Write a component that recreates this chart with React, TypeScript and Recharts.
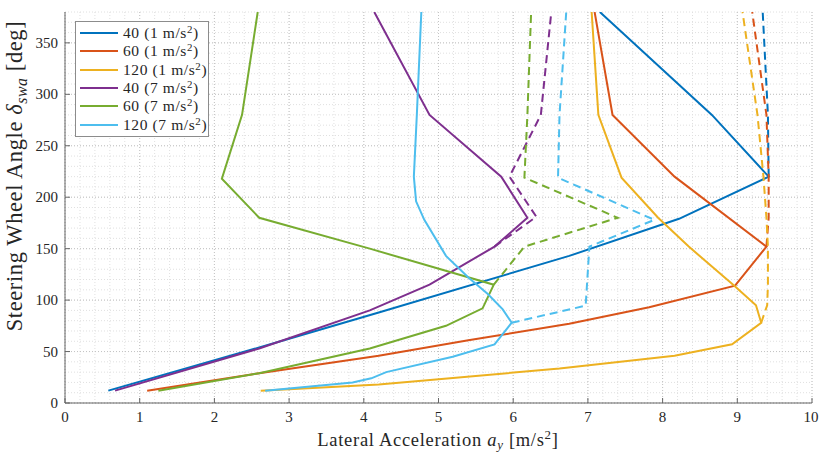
import { LineChart, Line, XAxis, YAxis, CartesianGrid } from "recharts"

// [lateral acceleration m/s^2, steering wheel angle deg]
const v40a1: number[][] = [[0.58, 12], [2.6, 54], [4.2, 88], [6.75, 143], [8.22, 179], [9.42, 220], [8.66, 280], [7.16, 380]]
const v40a1Dash: number[][] = [[9.42, 220], [9.41, 280], [9.34, 380]]

const v60a1: number[][] = [[1.1, 12], [2.6, 29], [4.2, 46], [5.4, 61], [6.75, 77], [7.82, 93], [8.97, 114], [9.39, 152], [8.16, 220], [7.33, 280], [7.09, 380]]
const v60a1Dash: number[][] = [[9.39, 152], [9.42, 180], [9.42, 220], [9.39, 280], [9.2, 380]]

const v120a1: number[][] = [[2.62, 12], [4.2, 18], [6.62, 33.5], [8.16, 46], [8.93, 57], [9.32, 78], [9.25, 95], [8.96, 114], [8.35, 152], [7.94, 180], [7.45, 219], [7.14, 280], [7.05, 380]]
const v120a1Dash: number[][] = [[9.32, 78], [9.4, 95], [9.41, 115], [9.41, 152], [9.39, 180], [9.35, 220], [9.27, 280], [9.07, 380]]

const v40a7: number[][] = [[0.67, 12], [2.6, 53], [4.08, 90], [4.88, 115], [5.75, 152], [6.19, 180], [5.84, 220], [4.88, 280], [4.14, 380]]
const v40a7Dash: number[][] = [[5.75, 152], [6.31, 181], [5.95, 220], [6.37, 280], [6.51, 380]]

const v60a7: number[][] = [[1.25, 12], [2.6, 29], [4.08, 53], [5.1, 75], [5.59, 92], [5.74, 115], [4.08, 150], [2.6, 180], [2.1, 218], [2.37, 280], [2.58, 380]]
const v60a7Dash: number[][] = [[5.74, 115], [6.15, 152], [7.4, 180], [6.15, 219], [6.19, 280], [6.24, 380]]

const v120a7: number[][] = [[2.68, 12], [3.85, 20], [4.1, 24], [4.3, 30], [5.19, 45], [5.75, 57], [5.98, 78], [5.86, 91], [5.66, 106], [5.4, 122], [5.1, 143], [4.81, 178], [4.7, 196], [4.67, 220], [4.71, 280], [4.77, 380]]
const v120a7Dash: number[][] = [[5.98, 78], [6.97, 94.6], [7.02, 152], [7.89, 178], [6.6, 219], [6.62, 280], [6.71, 380]]

const speeds = ["40", "60", "120", "40", "60", "120"]
const accels = ["1", "1", "1", "7", "7", "7"]
const colors = ["#0072BD", "#D95319", "#EDB120", "#7E2F8E", "#77AC30", "#4DBEEE"]
const solidLines = [v40a1, v60a1, v120a1, v40a7, v60a7, v120a7]
const dashedLines = [v40a1Dash, v60a1Dash, v120a1Dash, v40a7Dash, v60a7Dash, v120a7Dash]

const xTicks = [0, 1, 2, 3, 4, 5, 6, 7, 8, 9, 10]
const yTicks = [0, 50, 100, 150, 200, 250, 300, 350]
const X_MAX = 10
const Y_MAX = 380

const minorX = Array.from({ length: 51 }, (_, i) => i * 0.2)
const minorY = Array.from({ length: 39 }, (_, i) => i * 10)

const toPts = (arr: number[][]) => arr.map(([x, y]) => ({ x, y }))

const FONT = "Liberation Serif, Times New Roman, serif"

const XTick = ({ x, y, payload }: any) => (
  <text x={x} y={y} dy={11} textAnchor="middle" fill="#262626" fontSize={15} fontFamily={FONT}>
    {payload.value}
  </text>
)
const YTick = ({ x, y, payload }: any) => (
  <text x={x} y={y} dy={5} textAnchor="end" fill="#262626" fontSize={15} fontFamily={FONT}>
    {payload.value}
  </text>
)

export default function App() {
  return (
    <div style={{ position: "absolute", left: 0, top: 0, width: 819, height: 452, background: "#fff", fontFamily: FONT }}>
      <LineChart width={819} height={452} margin={{ top: 12, right: 7, bottom: 0, left: 0 }}>
        <CartesianGrid
          stroke="#e0e0e0"
          strokeDasharray="1 2"
          verticalCoordinatesGenerator={({ offset }: any) => minorX.map((v) => offset.left + (v / X_MAX) * offset.width)}
          horizontalCoordinatesGenerator={({ offset }: any) => minorY.map((v) => offset.top + offset.height - (v / Y_MAX) * offset.height)}
        />
        <CartesianGrid
          stroke="#c4c4c4"
          strokeDasharray="1 2"
          verticalCoordinatesGenerator={({ offset }: any) => xTicks.map((v) => offset.left + (v / X_MAX) * offset.width)}
          horizontalCoordinatesGenerator={({ offset }: any) => yTicks.map((v) => offset.top + offset.height - (v / Y_MAX) * offset.height)}
        />
        <XAxis
          type="number"
          dataKey="x"
          domain={[0, X_MAX]}
          ticks={xTicks}
          allowDataOverflow
          height={49}
          stroke="#666"
          tickSize={-5}
          tickMargin={13}
          tick={<XTick />}
        />
        <YAxis
          type="number"
          dataKey="y"
          domain={[0, Y_MAX]}
          ticks={yTicks}
          allowDataOverflow
          width={65}
          stroke="#666"
          tickSize={-5}
          tickMargin={12}
          tick={<YTick />}
        />
        {solidLines.map((d, i) => (
          <Line
            key={"s" + i}
            data={toPts(d)}
            dataKey="y"
            type="linear"
            stroke={colors[i]}
            strokeWidth={2}
            dot={false}
            activeDot={false}
            isAnimationActive={false}
          />
        ))}
        {dashedLines.map((d, i) => (
          <Line
            key={"d" + i}
            data={toPts(d)}
            dataKey="y"
            type="linear"
            stroke={colors[i]}
            strokeWidth={2}
            strokeDasharray="8 5"
            dot={false}
            activeDot={false}
            isAnimationActive={false}
          />
        ))}
      </LineChart>

      {/* legend */}
      <div
        style={{
          position: "absolute",
          left: 75,
          top: 21,
          width: 132,
          height: 112,
          border: "1px solid #8c8c8c",
          background: "#fff",
          paddingTop: 2,
          boxSizing: "content-box",
        }}
      >
        {speeds.map((s, i) => (
          <div key={i} style={{ display: "flex", alignItems: "center", height: 18.3 }}>
            <svg width={43} height={4} style={{ marginLeft: 4 }}>
              <line x1={0} y1={2} x2={38} y2={2} stroke={colors[i]} strokeWidth={2} />
            </svg>
            <span style={{ fontFamily: FONT, fontSize: 15.5, color: "#262626", whiteSpace: "nowrap", letterSpacing: 0.6 }}>
              {s} ({accels[i]} m/s<sup style={{ fontSize: "0.7em", verticalAlign: "0.5em", lineHeight: 0 }}>2</sup>)
            </span>
          </div>
        ))}
      </div>

      {/* x axis title */}
      <div
        style={{
          position: "absolute",
          left: 438,
          top: 440,
          transform: "translate(-50%, -50%)",
          fontFamily: FONT,
          fontSize: 18.5,
          color: "#262626",
          whiteSpace: "nowrap",
          letterSpacing: 0.7,
        }}
      >
        Lateral Acceleration <i>a</i>
        <sub style={{ fontStyle: "italic", fontSize: "0.7em", verticalAlign: "-0.3em", lineHeight: 0 }}>y</sub> [m/s
        <sup style={{ fontSize: "0.7em", verticalAlign: "0.5em", lineHeight: 0 }}>2</sup>]
      </div>

      {/* y axis title */}
      <div
        style={{
          position: "absolute",
          left: 15,
          top: 176,
          transform: "translate(-50%, -50%) rotate(-90deg)",
          fontFamily: FONT,
          fontSize: 22.5,
          color: "#262626",
          whiteSpace: "nowrap",
          letterSpacing: 0.6,
        }}
      >
        Steering Wheel Angle <i>δ</i>
        <sub style={{ fontStyle: "italic", fontSize: "0.7em", verticalAlign: "-0.3em", lineHeight: 0 }}>swa</sub> [deg]
      </div>
    </div>
  )
}
